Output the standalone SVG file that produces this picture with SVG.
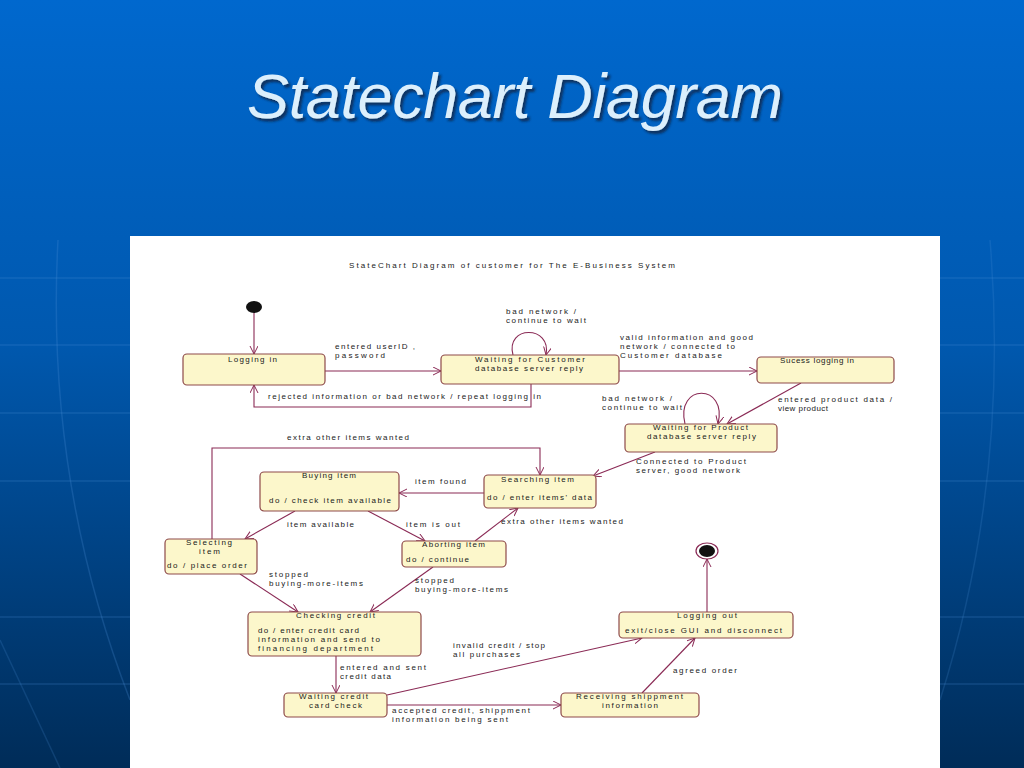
<svg xmlns="http://www.w3.org/2000/svg" width="1024" height="768" viewBox="0 0 1024 768">
<defs>
<linearGradient id="bg" x1="0" y1="0" x2="0" y2="1">
<stop offset="0" stop-color="#0068CE"/>
<stop offset="0.45" stop-color="#0058AE"/>
<stop offset="1" stop-color="#002C58"/>
</linearGradient>
<filter id="shadow" x="-5%" y="-20%" width="110%" height="150%">
<feDropShadow dx="2.5" dy="3" stdDeviation="0.8" flood-color="#0A2040" flood-opacity="0.75"/>
</filter>
<marker id="arr" markerWidth="10" markerHeight="10" refX="8" refY="4" orient="auto" markerUnits="userSpaceOnUse">
<path d="M0,0 L8,4 L0,8" fill="none" stroke="#8A2A55" stroke-width="1"/>
</marker>
<style>
.n{fill:#FCF7CB;stroke:#8E4A4A;stroke-width:1.2}
.c{fill:none;stroke:#8A2A55;stroke-width:1.1;marker-end:url(#arr)}
.t{font-family:"Liberation Sans",Arial,sans-serif;font-size:8px;fill:#1a1a1a}
.bl{stroke:#4C8FD6;stroke-width:1;opacity:0.35}
</style>
</defs>
<rect x="0" y="0" width="1024" height="768" fill="url(#bg)"/>
<g id="bglines">
<line class="bl" x1="0" y1="278" x2="1024" y2="278"/>
<line class="bl" x1="0" y1="345" x2="1024" y2="345"/>
<line class="bl" x1="0" y1="413" x2="1024" y2="413"/>
<line class="bl" x1="0" y1="481" x2="1024" y2="481"/>
<line class="bl" x1="0" y1="617" x2="1024" y2="617" opacity="0.2"/>
<line class="bl" x1="0" y1="684" x2="1024" y2="684" opacity="0.2"/>
<path d="M58,240 Q45,480 130,700" fill="none" stroke="#4C8FD6" stroke-width="1.5" opacity="0.25"/>
<path d="M990,240 Q1010,480 940,700" fill="none" stroke="#4C8FD6" stroke-width="1.5" opacity="0.2"/>
<path d="M0,640 L60,768" fill="none" stroke="#4C8FD6" stroke-width="1.5" opacity="0.2"/>
</g>
<g id="slide-title">
<text x="247" y="118" font-family="Liberation Sans,Arial,sans-serif" font-style="italic" font-size="63" fill="#DCEFFC" textLength="536" filter="url(#shadow)">Statechart Diagram</text>
</g>
<rect x="130" y="236" width="810" height="532" fill="#FFFFFF"/>
<text class="t" x="349" y="268" textLength="326">StateChart Diagram of customer for The E-Business System</text>

<g id="connectors">
<path class="c" d="M254,313 L254,354"/>
<path class="c" d="M325,371 L441,371"/>
<path class="c" d="M513,355 C505,325 552,325 546,355"/>
<path class="c" d="M531,384 L531,407 L254,407 L254,385"/>
<path class="c" d="M619,371 L757,371"/>
<path class="c" d="M801,383 L727,424"/>
<path class="c" d="M685,424 C675,383 728,383 718,424"/>
<path class="c" d="M655,452 L593,476"/>
<path class="c" d="M484,493 L399,493"/>
<path class="c" d="M295,511 L245,539"/>
<path class="c" d="M368,511 L425,541"/>
<path class="c" d="M212,539 L212,448 L540,448 L540,475"/>
<path class="c" d="M475,541 L518,508"/>
<path class="c" d="M433,567 L370,612"/>
<path class="c" d="M240,574 L298,612"/>
<path class="c" d="M336,656 L336,693"/>
<path class="c" d="M387,705 L561,705"/>
<path class="c" d="M387,695 L642,638"/>
<path class="c" d="M642,693 L695,638"/>
<path class="c" d="M707,612 L707,559"/>
</g>

<g id="labels">
<text class="t" x="335" y="349" textLength="80">entered userID ,</text>
<text class="t" x="335" y="358" textLength="50">password</text>
<text class="t" x="268" y="399" textLength="273">rejected information or bad network / repeat logging in</text>
<text class="t" x="506" y="314" textLength="70">bad network /</text>
<text class="t" x="506" y="323" textLength="80">continue to wait</text>
<text class="t" x="620" y="340" textLength="133">valid information and good</text>
<text class="t" x="620" y="349" textLength="115">network / connected to</text>
<text class="t" x="620" y="358" textLength="102">Customer database</text>
<text class="t" x="778" y="402" textLength="114">entered product data /</text>
<text class="t" x="778" y="411" textLength="50">view product</text>
<text class="t" x="602" y="401" textLength="70">bad network /</text>
<text class="t" x="602" y="410" textLength="80">continue to wait</text>
<text class="t" x="636" y="464" textLength="110">Connected to Product</text>
<text class="t" x="636" y="473" textLength="104">server, good network</text>
<text class="t" x="415" y="484" textLength="51">item found</text>
<text class="t" x="287" y="440" textLength="122">extra other items wanted</text>
<text class="t" x="287" y="527" textLength="67">item available</text>
<text class="t" x="406" y="527" textLength="54">item is out</text>
<text class="t" x="501" y="524" textLength="122">extra other items wanted</text>
<text class="t" x="415" y="583" textLength="39">stopped</text>
<text class="t" x="415" y="592" textLength="93">buying-more-items</text>
<text class="t" x="269" y="577" textLength="39">stopped</text>
<text class="t" x="269" y="586" textLength="94">buying-more-items</text>
<text class="t" x="340" y="670" textLength="86">entered and sent</text>
<text class="t" x="340" y="679" textLength="51">credit data</text>
<text class="t" x="392" y="713" textLength="138">accepted credit, shippment</text>
<text class="t" x="392" y="722" textLength="116">information being sent</text>
<text class="t" x="453" y="648" textLength="92">invalid credit / stop</text>
<text class="t" x="453" y="657" textLength="67">all purchases</text>
<text class="t" x="673" y="673" textLength="64">agreed order</text>
</g>

<g id="initial">
<ellipse cx="254" cy="307" rx="8" ry="6" fill="#111"/>
</g>
<g id="logging-in">
<rect class="n" x="183" y="354" width="142" height="31" rx="4"/>
<text class="t" x="228" y="362" textLength="49">Logging in</text>
</g>
<g id="waiting-customer">
<rect class="n" x="441" y="355" width="178" height="29" rx="4"/>
<text class="t" x="475" y="362" textLength="110">Waiting for Customer</text>
<text class="t" x="475" y="371" textLength="108">database server reply</text>
</g>
<g id="success">
<rect class="n" x="757" y="357" width="137" height="26" rx="4"/>
<text class="t" x="780" y="363" textLength="74">Sucess logging in</text>
</g>
<g id="waiting-product">
<rect class="n" x="625" y="424" width="152" height="28" rx="4"/>
<text class="t" x="653" y="430" textLength="95">Waiting for Product</text>
<text class="t" x="647" y="439" textLength="109">database server reply</text>
</g>
<g id="searching">
<rect class="n" x="484" y="475" width="112" height="33" rx="4"/>
<text class="t" x="501" y="482" textLength="73">Searching item</text>
<text class="t" x="487" y="500" textLength="105">do / enter items' data</text>
</g>
<g id="buying">
<rect class="n" x="260" y="472" width="139" height="39" rx="4"/>
<text class="t" x="302" y="478" textLength="54">Buying item</text>
<text class="t" x="269" y="503" textLength="122">do / check item available</text>
</g>
<g id="selecting">
<rect class="n" x="165" y="539" width="92" height="35" rx="4"/>
<text class="t" x="186" y="545" textLength="46">Selecting</text>
<text class="t" x="199" y="554" textLength="21">item</text>
<text class="t" x="167" y="568" textLength="80">do / place order</text>
</g>
<g id="aborting">
<rect class="n" x="402" y="541" width="104" height="26" rx="4"/>
<text class="t" x="422" y="547" textLength="63">Aborting item</text>
<text class="t" x="406" y="562" textLength="63">do / continue</text>
</g>
<g id="checking">
<rect class="n" x="248" y="612" width="173" height="44" rx="4"/>
<text class="t" x="296" y="618" textLength="79">Checking credit</text>
<text class="t" x="258" y="633" textLength="101">do / enter credit card</text>
<text class="t" x="258" y="642" textLength="122">information and send to</text>
<text class="t" x="258" y="651" textLength="115">financing department</text>
</g>
<g id="waiting-credit">
<rect class="n" x="284" y="693" width="103" height="24" rx="4"/>
<text class="t" x="299" y="699" textLength="69">Waiting credit</text>
<text class="t" x="309" y="708" textLength="53">card check</text>
</g>
<g id="receiving">
<rect class="n" x="561" y="693" width="138" height="24" rx="4"/>
<text class="t" x="576" y="699" textLength="107">Receiving shippment</text>
<text class="t" x="602" y="708" textLength="56">information</text>
</g>
<g id="logging-out">
<rect class="n" x="619" y="612" width="174" height="26" rx="4"/>
<text class="t" x="677" y="618" textLength="60">Logging out</text>
<text class="t" x="625" y="633" textLength="157">exit/close GUI and disconnect</text>
</g>
<g id="final">
<ellipse cx="707" cy="551" rx="11" ry="8" fill="#fff" stroke="#8A2A55" stroke-width="1.2"/>
<ellipse cx="707" cy="551" rx="8" ry="6" fill="#111"/>
</g>
</svg>
